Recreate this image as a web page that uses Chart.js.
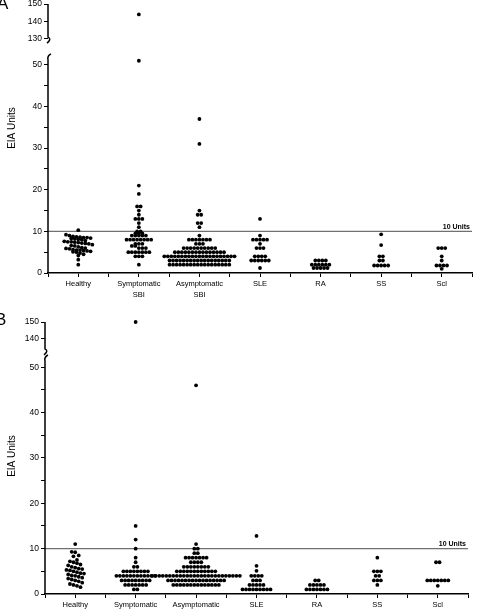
<!DOCTYPE html>
<html>
<head>
<meta charset="utf-8">
<script src="https://cdn.jsdelivr.net/npm/chart.js@4.4.0/dist/chart.umd.min.js"></script>
<style>
  body { margin: 0; background: #fff; }
  canvas { display: block; }
</style>
</head>
<body>
<canvas id="chartA" width="478" height="300"></canvas>
<canvas id="chartB" width="478" height="312"></canvas>
<script>
// Categorías del eje x
const categories = [['Healthy'], ['Symptomatic', 'SBI'], ['Asymptomatic', 'SBI'], ['SLE'], ['RA'], ['SS'], ['Scl']];
const threshold = 10;
const thresholdLabel = '10 Units';
const axisTitle = 'EIA Units';

// Panel A (valores EIA)
const healthyA = [10.3, 9.2, 9.0, 8.8, 8.7, 8.6, 8.5, 8.5, 8.4, 8.3, 8.2, 8.1, 8.0, 7.8, 7.6, 7.5, 7.5, 7.4, 7.3, 7.2, 7.1, 7.0, 6.8, 6.6, 6.5, 6.3, 6.1, 6.0, 5.9, 5.8, 5.6, 5.5, 5.5, 5.4, 5.3, 5.2, 5.1, 5.0, 4.8, 4.5, 4.2, 3.2, 2.0];
const symptA = [144, 51, 21, 19, 16, 16, 15, 14, 13, 13, 13, 12, 11, 10, 10, 9.5, 9.5, 9.5, 9, 9, 9, 9, 9, 8, 8, 8, 8, 8, 8, 8, 8, 7, 7, 7, 6.5, 6.5, 6, 6, 6, 5, 5, 5, 5, 5, 5, 5, 4, 4, 4, 2];
const asymA = [37, 31, 15, 14, 14, 12, 12, 11, 9,
  8, 8, 8, 8, 8, 8, 8,
  7, 7, 7,
  6, 6, 6, 6, 6, 6, 6, 6, 6, 6,
  5, 5, 5, 5, 5, 5, 5, 5, 5, 5, 5, 5, 5, 5, 5,
  4, 4, 4, 4, 4, 4, 4, 4, 4, 4, 4, 4, 4, 4, 4, 4, 4, 4, 4, 4, 4,
  3, 3, 3, 3, 3, 3, 3, 3, 3, 3, 3, 3, 3, 3, 3, 3, 3, 3,
  2, 2, 2, 2, 2, 2, 2, 2, 2, 2, 2, 2, 2, 2, 2, 2, 2, 2];
const sleA = [13, 9, 8, 8, 8, 8, 8, 7, 6, 6, 6, 4, 4, 4, 4, 3, 3, 3, 3, 3, 3, 1.2];
const raA = [3, 3, 3, 3, 2, 2, 2, 2, 2, 2, 1.2, 1.2, 1.2, 1.2, 1.2];
const ssA = [9.3, 6.7, 4, 4, 3, 3, 1.8, 1.8, 1.8, 1.8, 1.8];
const sclA = [6, 6, 6, 4, 3, 1.8, 1.8, 1.8, 1.8, 1];

// Panel B (valores EIA)
const healthyB = [11, 9.3, 9.2, 8.5, 8.3, 7.5, 7.2, 7, 6.8, 6.5, 6.3, 6, 5.8, 5.6, 5.5, 5.3, 5.2, 5, 4.8, 4.6, 4.5, 4.3, 4.1, 4, 3.8, 3.6, 3.4, 3.2, 3, 2.8, 2.5, 2.2, 2, 1.8, 1.5];
const symptB = [150, 15, 12, 10, 8, 7, 6, 6,
  5, 5, 5, 5, 5, 5, 5, 5,
  4, 4, 4, 4, 4, 4, 4, 4, 4, 4, 4, 4,
  3, 3, 3, 3, 3, 3, 3, 3, 3,
  2, 2, 2, 2, 2, 2, 2,
  1, 1];
const asymB = [46, 11, 10, 10, 9, 9,
  8, 8, 8, 8, 8, 8, 8,
  7, 7, 7, 7,
  6, 6, 6, 6, 6, 6, 6, 6,
  5, 5, 5, 5, 5, 5, 5, 5, 5, 5, 5, 5,
  4, 4, 4, 4, 4, 4, 4, 4, 4, 4, 4, 4, 4, 4, 4, 4, 4, 4, 4, 4, 4, 4, 4, 4, 4, 4,
  3, 3, 3, 3, 3, 3, 3, 3, 3, 3, 3, 3, 3, 3, 3, 3, 3,
  2, 2, 2, 2, 2, 2, 2, 2, 2, 2, 2, 2, 2, 2];
const sleB = [12.8, 6.2, 5.1, 4, 4, 4, 4, 3, 3, 3, 2, 2, 2, 2, 2, 1, 1, 1, 1, 1, 1, 1, 1, 1];
const raB = [3, 3, 2, 2, 2, 2, 2, 1, 1, 1, 1, 1, 1, 1];
const ssB = [8, 5, 5, 5, 4, 4, 3, 3, 3, 2];
const sclB = [7, 7, 3, 3, 3, 3, 3, 3, 3, 1.8];

const groupsA = [healthyA, symptA, asymA, sleA, raA, ssA, sclA];
const groupsB = [healthyB, symptB, asymB, sleB, raB, ssB, sclB];

Chart.defaults.font.family = "'Liberation Sans', Arial, sans-serif";
Chart.defaults.color = '#000';

// reparte los puntos de cada fila alrededor de la categoría
function swarm(values, cat, bin, dx) {
  const rows = new Map();
  values.forEach(v => {
    const key = Math.round(v / bin);
    if (!rows.has(key)) rows.set(key, []);
    rows.get(key).push(v);
  });
  const pts = [];
  rows.forEach(row => {
    row.forEach((v, k) => pts.push({ x: cat + (k - (row.length - 1) / 2) * dx, y: v }));
  });
  return pts;
}

const decor = {
  id: 'decor',
  beforeDatasetsDraw(chart, args, opts) {
    const { ctx, chartArea, scales } = chart;
    const y = scales.yLow.getPixelForValue(threshold);
    ctx.save();
    ctx.strokeStyle = '#707070';
    ctx.lineWidth = 1.3;
    ctx.beginPath();
    ctx.moveTo(chartArea.left, y);
    ctx.lineTo(chartArea.right, y);
    ctx.stroke();
    ctx.restore();
  },
  afterDraw(chart, args, opts) {
    const { ctx, chartArea, scales } = chart;
    const x = chartArea.left;
    ctx.save();
    ctx.strokeStyle = '#000';
    ctx.lineWidth = 1.5;
    // tramo superior del eje y con corte
    const top = scales.yHigh.getPixelForValue(scales.yHigh.max);
    const hb = scales.yHigh.getPixelForValue(opts.breakAt);
    ctx.beginPath();
    ctx.moveTo(x, top);
    ctx.lineTo(x, hb);
    ctx.quadraticCurveTo(x + 4, hb + 2, x - 1, hb + 6);
    ctx.stroke();
    // tramo inferior
    const lt = scales.yLow.top + 1;
    const bottom = scales.yLow.getPixelForValue(0);
    ctx.beginPath();
    ctx.moveTo(x + 3, lt);
    ctx.quadraticCurveTo(x - 1, lt + 2, x, lt + 6);
    ctx.lineTo(x, bottom);
    ctx.stroke();

    // etiqueta del umbral
    const ty = scales.yLow.getPixelForValue(threshold);
    ctx.fillStyle = '#000';
    ctx.font = "bold 7px 'Liberation Sans', Arial, sans-serif";
    ctx.textAlign = 'right';
    ctx.textBaseline = 'alphabetic';
    ctx.fillText(thresholdLabel, chartArea.right - 2, ty - 2.5);

    // título del eje
    ctx.save();
    ctx.translate(12, opts.titleY);
    ctx.rotate(-Math.PI / 2);
    ctx.textAlign = 'center';
    ctx.textBaseline = 'middle';
    ctx.font = "10px 'Liberation Sans', Arial, sans-serif";
    ctx.fillText(axisTitle, 0, 0);
    ctx.restore();

    // letra del panel
    ctx.textAlign = 'left';
    ctx.font = "17px 'Liberation Sans', Arial, sans-serif";
    ctx.fillText(opts.letter, opts.letterX, opts.letterY);
    ctx.restore();
  }
};

function makePanel(id, groups, cfg) {
  const low = [], high = [];
  groups.forEach((vals, i) => {
    swarm(vals, i, cfg.bin, 0.058).forEach(p => (p.y > 100 ? high : low).push(p));
  });
  const dotStyle = { pointRadius: 1.9, pointBackgroundColor: '#000', pointBorderWidth: 0, clip: false };
  const zeroPad = s => { s.paddingTop = 0; s.paddingBottom = 0; s.paddingLeft = 0; s.paddingRight = 0; };
  return new Chart(document.getElementById(id), {
    type: 'scatter',
    data: {
      datasets: [
        { data: low, yAxisID: 'yLow', ...dotStyle },
        { data: high, yAxisID: 'yHigh', ...dotStyle }
      ]
    },
    options: {
      responsive: false,
      animation: false,
      events: [],
      layout: { padding: { top: cfg.padTop, right: cfg.padRight, left: 0, bottom: 0 } },
      plugins: {
        legend: { display: false },
        tooltip: { enabled: false },
        decor: cfg
      },
      scales: {
        x: {
          type: 'linear', min: -0.5, max: 6.5,
          border: { display: true, color: '#000', width: 1.5 },
          grid: { drawOnChartArea: false, tickLength: 4, color: '#000', lineWidth: 1 },
          ticks: {
            stepSize: 0.5, autoSkip: false, maxRotation: 0, padding: 2,
            font: { size: 7.5, lineHeight: 1.4 },
            callback: v => Number.isInteger(v) ? categories[v] : ''
          },
          afterFit: s => { s.height = cfg.xHeight; zeroPad(s); }
        },
        yLow: {
          type: 'linear', position: 'left', stack: 'y', stackWeight: cfg.loWeight,
          min: 0, max: cfg.loMax,
          border: { display: false },
          grid: { drawOnChartArea: false, tickLength: 4, color: '#000', lineWidth: 1 },
          ticks: {
            stepSize: 5, includeBounds: false, autoSkip: false, padding: 2,
            font: { size: 8.5 },
            callback: v => v % 10 === 0 ? v : ''
          },
          afterFit: s => { s.width = cfg.yWidth; zeroPad(s); }
        },
        yHigh: {
          type: 'linear', position: 'left', stack: 'y', stackWeight: cfg.hiWeight,
          min: cfg.hiMin, max: 150,
          border: { display: false },
          grid: { drawOnChartArea: false, tickLength: 4, color: '#000', lineWidth: 1 },
          ticks: { stepSize: 10, includeBounds: false, autoSkip: false, padding: 2, font: { size: 8.5 } },
          afterFit: s => { s.width = cfg.yWidth; zeroPad(s); }
        }
      }
    },
    plugins: [decor]
  });
}

makePanel('chartA', groupsA, {
  padTop: 3, padRight: 6, yWidth: 48, xHeight: 27,
  hiMin: 122, loMax: 52.9, hiWeight: 49, loWeight: 221,
  breakAt: 131, letter: 'A', letterX: -3, letterY: 9, titleY: 128, bin: 0.8
});
makePanel('chartB', groupsB, {
  padTop: 22, padRight: 10, yWidth: 45, xHeight: 18,
  hiMin: 131, loMax: 52.9, hiWeight: 32, loWeight: 240,
  breakAt: 134, letter: 'B', letterX: -5, letterY: 25, titleY: 156, bin: 1.0
});
</script>
</body>
</html>
